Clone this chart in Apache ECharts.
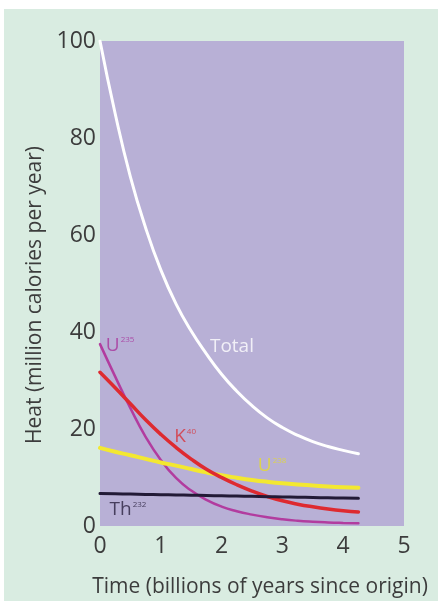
<!DOCTYPE html>
<html>
<head>
<meta charset="utf-8">
<script src="https://cdn.jsdelivr.net/npm/echarts@6/dist/echarts.min.js"></script>
<style>
  html, body { margin: 0; padding: 0; background: #ffffff; width: 438px; height: 603px; overflow: hidden; }
  #chart { position: absolute; left: 4px; top: 9px; width: 434px; height: 592px; background: #d9ece1; }
</style>
</head>
<body>
<div id="chart"></div>
<script>
// Time (billions of years since origin)
const times = [0, 0.25, 0.5, 0.75, 1, 1.25, 1.5, 1.75, 2, 2.25, 2.5, 2.75, 3, 3.25, 3.5, 3.75, 4, 4.25];
// Heat (million calories per year)
const total = [100, 85, 72, 61.5, 52.8, 45.8, 40.2, 35.5, 31.3, 27.8, 24.8, 22.3, 20.3, 18.7, 17.4, 16.4, 15.6, 14.9];
const u235  = [37.5, 30.8, 24.3, 18.4, 13.6, 9.9, 7.3, 5.4, 4.0, 3.05, 2.35, 1.8, 1.38, 1.08, 0.88, 0.74, 0.64, 0.56];
const k40   = [31.7, 28.5, 25.2, 21.9, 18.9, 16.2, 13.8, 11.7, 10.0, 8.5, 7.2, 6.1, 5.2, 4.5, 3.95, 3.5, 3.15, 2.9];
const u238  = [16.1, 15.3, 14.6, 13.85, 13.1, 12.45, 11.75, 11.05, 10.45, 9.95, 9.5, 9.12, 8.8, 8.55, 8.35, 8.15, 8.0, 7.9];
const th232 = [6.7, 6.64, 6.58, 6.52, 6.46, 6.41, 6.35, 6.29, 6.23, 6.17, 6.11, 6.05, 5.99, 5.94, 5.88, 5.82, 5.76, 5.7];
const xTicks = [0, 1, 2, 3, 4, 5];
const yTicks = [0, 20, 40, 60, 80, 100];

const pairs = arr => times.map((t, i) => [t, arr[i]]);
const FONT = '"Open Sans", "DejaVu Sans", sans-serif';

function lineSeries(name, arr, color, width) {
  return {
    name, type: 'line', data: pairs(arr), smooth: true,
    showSymbol: false, symbol: 'none',
    lineStyle: { color, width, cap: 'round' }, silent: true, animation: false
  };
}
function tag(coord, main, sup, color) {
  return {
    value: coord,
    label: {
      show: true, position: 'inside',
      formatter: sup ? '{m|' + main + '}{s|' + sup + '}' : '{m|' + main + '}',
      rich: {
        m: { fontFamily: FONT, fontSize: 19, color },
        s: { fontFamily: FONT, fontSize: 8, color, padding: [0, 0, 10, 1] }
      }
    }
  };
}

const chart = echarts.init(document.getElementById('chart'), null, { renderer: 'canvas' });
chart.setOption({
  animation: false,
  grid: { left: 96, top: 32, width: 304, height: 485, show: true, backgroundColor: '#b8b0d6', borderWidth: 0,
          outerBoundsMode: 'none', containLabel: false },
  xAxis: {
    type: 'value', min: 0, max: 5, interval: 1,
    axisLine: { show: false }, axisTick: { show: false }, splitLine: { show: false },
    axisLabel: { fontFamily: FONT, fontSize: 23, color: '#3c3c3c', margin: 9,
      formatter: v => xTicks.includes(v) ? String(v) : '' },
    name: 'Time (billions of years since origin)', nameLocation: 'middle', nameGap: 51,
    nameTextStyle: { fontFamily: FONT, fontSize: 21, color: '#3c3c3c', padding: [0, 0, 0, 16] }
  },
  yAxis: {
    type: 'value', min: 0, max: 100, interval: 20,
    axisLine: { show: false }, axisTick: { show: false }, splitLine: { show: false },
    axisLabel: { fontFamily: FONT, fontSize: 23, color: '#3c3c3c', margin: 4,
      formatter: v => yTicks.includes(v) ? String(v) : '' },
    name: 'Heat (million calories per year)', nameLocation: 'middle', nameGap: 53,
    nameTextStyle: { fontFamily: FONT, fontSize: 21, color: '#3c3c3c', padding: [0, 23, 0, 0] }
  },
  series: [
    lineSeries('U235', u235, '#b23c9f', 2.5),
    lineSeries('U238', u238, '#f3e830', 4),
    lineSeries('K40', k40, '#de2a30', 3.5),
    lineSeries('Th232', th232, '#221a36', 3),
    lineSeries('Total', total, '#ffffff', 3),
    {
      type: 'scatter', symbolSize: 0, silent: true, animation: false,
      data: [
        tag([2.17, 37], 'Total', '', '#ffffff'),
        tag([0.33, 37.3], 'U', '235', '#a8339b'),
        tag([1.4, 18.5], 'K', '40', '#d8323a'),
        tag([2.83, 12.4], 'U', '238', '#e6dc2c'),
        tag([0.46, 3.3], 'Th', '232', '#2a2240')
      ]
    }
  ]
});
</script>
</body>
</html>
